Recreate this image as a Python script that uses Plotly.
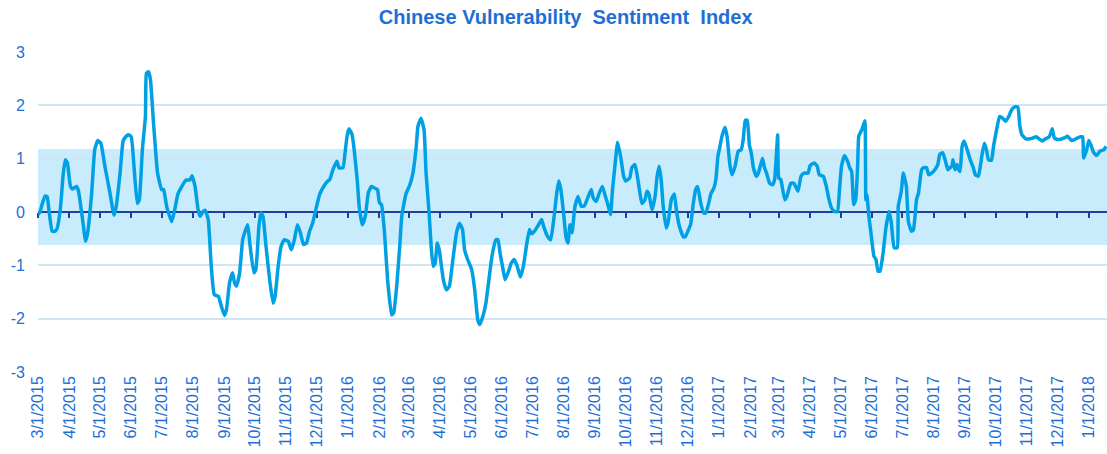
import plotly.graph_objects as go

# ---- data ----
dates = [
    "2015-03-01","2015-03-03","2015-03-05","2015-03-08","2015-03-10","2015-03-12","2015-03-15","2015-03-18","2015-03-20","2015-03-23",
    "2015-03-26","2015-03-28","2015-03-30","2015-04-02","2015-04-04","2015-04-08","2015-04-10","2015-04-14","2015-04-17","2015-04-19",
    "2015-04-23","2015-04-26","2015-04-29","2015-05-02","2015-05-06","2015-05-11","2015-05-15","2015-05-17","2015-05-21","2015-05-24",
    "2015-05-27","2015-05-29","2015-06-01","2015-06-04","2015-06-07","2015-06-09","2015-06-12","2015-06-15","2015-06-16","2015-06-18",
    "2015-06-20","2015-06-23","2015-06-27","2015-07-01","2015-07-03","2015-07-06","2015-07-11","2015-07-14","2015-07-17","2015-07-21",
    "2015-07-25","2015-07-29","2015-07-31","2015-08-03","2015-08-06","2015-08-08","2015-08-11","2015-08-13","2015-08-16","2015-08-19",
    "2015-08-22","2015-08-26","2015-08-29","2015-09-01","2015-09-03","2015-09-06","2015-09-09","2015-09-11","2015-09-13","2015-09-16",
    "2015-09-19","2015-09-22","2015-09-24","2015-09-26","2015-09-30","2015-10-02","2015-10-05","2015-10-07","2015-10-09","2015-10-12",
    "2015-10-16","2015-10-19","2015-10-21","2015-10-24","2015-10-27","2015-10-30","2015-11-03","2015-11-06","2015-11-09","2015-11-12",
    "2015-11-15","2015-11-18","2015-11-21","2015-11-24","2015-11-27","2015-12-01","2015-12-04","2015-12-09","2015-12-12","2015-12-14",
    "2015-12-17","2015-12-21","2015-12-23","2015-12-27","2015-12-29","2015-12-31","2016-01-02","2016-01-05","2016-01-07","2016-01-10",
    "2016-01-12","2016-01-15","2016-01-18","2016-01-21","2016-01-24","2016-01-27","2016-01-30","2016-02-01","2016-02-03","2016-02-06",
    "2016-02-09","2016-02-13","2016-02-15","2016-02-18","2016-02-21","2016-02-23","2016-02-27","2016-03-02","2016-03-05","2016-03-08",
    "2016-03-10","2016-03-13","2016-03-16","2016-03-18","2016-03-21","2016-03-23","2016-03-25","2016-03-27","2016-03-29","2016-03-31",
    "2016-04-04","2016-04-07","2016-04-10","2016-04-13","2016-04-17","2016-04-20","2016-04-23","2016-04-25","2016-04-28","2016-05-02",
    "2016-05-05","2016-05-08","2016-05-10","2016-05-13","2016-05-16","2016-05-19","2016-05-22","2016-05-26","2016-05-28","2016-05-30",
    "2016-06-02","2016-06-04","2016-06-08","2016-06-10","2016-06-13","2016-06-16","2016-06-19","2016-06-22","2016-06-25","2016-06-28",
    "2016-06-30","2016-07-03","2016-07-06","2016-07-10","2016-07-12","2016-07-16","2016-07-19","2016-07-22","2016-07-25","2016-07-27",
    "2016-07-29","2016-08-01","2016-08-03","2016-08-05","2016-08-07","2016-08-09","2016-08-12","2016-08-15","2016-08-18","2016-08-21",
    "2016-08-25","2016-08-28","2016-08-30","2016-09-02","2016-09-05","2016-09-08","2016-09-11","2016-09-13","2016-09-16","2016-09-18",
    "2016-09-21","2016-09-23","2016-09-26","2016-09-29","2016-10-01","2016-10-05","2016-10-07","2016-10-10","2016-10-12","2016-10-15",
    "2016-10-17","2016-10-20","2016-10-22","2016-10-24","2016-10-27","2016-10-30","2016-11-01","2016-11-03","2016-11-05","2016-11-07",
    "2016-11-10","2016-11-12","2016-11-15","2016-11-18","2016-11-20","2016-11-23","2016-11-27","2016-11-29","2016-12-02","2016-12-04",
    "2016-12-07","2016-12-09","2016-12-11","2016-12-14","2016-12-17","2016-12-19","2016-12-22","2016-12-24","2016-12-27","2016-12-29",
    "2016-12-31","2017-01-02","2017-01-04","2017-01-07","2017-01-09","2017-01-12","2017-01-14","2017-01-17","2017-01-20","2017-01-23",
    "2017-01-25","2017-01-27","2017-01-29","2017-01-31","2017-02-02","2017-02-04","2017-02-07","2017-02-09","2017-02-13","2017-02-15",
    "2017-02-17","2017-02-20","2017-02-23","2017-02-25","2017-02-28","2017-03-01","2017-03-03","2017-03-07","2017-03-09","2017-03-13",
    "2017-03-16","2017-03-20","2017-03-23","2017-03-26","2017-03-30","2017-04-01","2017-04-05","2017-04-08","2017-04-10","2017-04-14",
    "2017-04-17","2017-04-19","2017-04-22","2017-04-25","2017-04-28","2017-04-30","2017-05-02","2017-05-05","2017-05-08","2017-05-10",
    "2017-05-12","2017-05-14","2017-05-16","2017-05-18","2017-05-19","2017-05-22","2017-05-25","2017-05-26","2017-05-27","2017-05-29",
    "2017-05-31","2017-06-03","2017-06-05","2017-06-07","2017-06-09","2017-06-12","2017-06-15","2017-06-18","2017-06-20","2017-06-23",
    "2017-06-26","2017-06-27","2017-06-30","2017-07-02","2017-07-05","2017-07-07","2017-07-10","2017-07-12","2017-07-15","2017-07-17",
    "2017-07-20","2017-07-22","2017-07-25","2017-07-27","2017-07-30","2017-08-02","2017-08-05","2017-08-07","2017-08-10","2017-08-13",
    "2017-08-15","2017-08-17","2017-08-19","2017-08-20","2017-08-22","2017-08-24","2017-08-26","2017-08-27","2017-08-29","2017-08-31",
    "2017-09-03","2017-09-06","2017-09-09","2017-09-11","2017-09-14","2017-09-16","2017-09-18","2017-09-20","2017-09-22","2017-09-24",
    "2017-09-27","2017-09-29","2017-10-02","2017-10-05","2017-10-08","2017-10-11","2017-10-14","2017-10-17","2017-10-20","2017-10-23",
    "2017-10-25","2017-10-27","2017-10-31","2017-11-03","2017-11-06","2017-11-10","2017-11-13","2017-11-16","2017-11-19","2017-11-23",
    "2017-11-25","2017-11-26","2017-11-28","2017-12-01","2017-12-05","2017-12-08","2017-12-11","2017-12-15","2017-12-18","2017-12-21",
    "2017-12-24","2017-12-26","2017-12-27","2017-12-30","2018-01-01","2018-01-03","2018-01-06","2018-01-09","2018-01-12","2018-01-16",
    "2018-01-18",
]

index_values = [
    -0.05, 0.00, 0.14, 0.30, 0.29, 0.00, -0.36, -0.36, -0.30, 0.05,
    0.73, 0.98, 0.92, 0.48, 0.43, 0.48, 0.39, -0.14, -0.55, -0.39,
    0.36, 1.17, 1.34, 1.29, 0.86, 0.36, -0.06, 0.08, 0.73, 1.33,
    1.42, 1.45, 1.41, 0.79, 0.16, 0.23, 1.17, 1.79, 2.60, 2.63,
    2.48, 1.67, 0.73, 0.42, 0.42, 0.10, -0.18, 0.05, 0.33, 0.48,
    0.60, 0.60, 0.68, 0.48, 0.04, -0.08, 0.01, 0.03, -0.14, -1.02,
    -1.55, -1.58, -1.77, -1.94, -1.83, -1.33, -1.14, -1.33, -1.39, -1.14,
    -0.52, -0.33, -0.24, -0.58, -1.14, -1.08, -0.27, -0.02, -0.08, -0.64,
    -1.33, -1.71, -1.58, -1.02, -0.64, -0.52, -0.55, -0.71, -0.52, -0.24,
    -0.39, -0.61, -0.58, -0.36, -0.21, 0.11, 0.33, 0.51, 0.58, 0.61,
    0.79, 0.95, 0.83, 0.83, 1.10, 1.42, 1.56, 1.45, 1.17, 0.61,
    0.10, -0.24, -0.08, 0.36, 0.48, 0.45, 0.42, 0.17, 0.14, -0.39,
    -1.27, -1.93, -1.89, -1.39, -0.64, -0.08, 0.33, 0.51, 0.73, 1.17,
    1.61, 1.76, 1.54, 0.73, -0.02, -0.64, -1.02, -0.96, -0.58, -0.71,
    -1.27, -1.46, -1.39, -0.96, -0.39, -0.21, -0.33, -0.71, -0.89, -1.08,
    -1.46, -2.02, -2.11, -1.96, -1.71, -1.27, -0.83, -0.52, -0.52, -0.77,
    -1.08, -1.27, -1.08, -0.96, -0.89, -1.02, -1.22, -1.02, -0.64, -0.33,
    -0.41, -0.36, -0.27, -0.14, -0.27, -0.46, -0.52, -0.14, 0.36, 0.58,
    0.42, -0.08, -0.46, -0.58, -0.24, -0.39, 0.11, 0.29, 0.11, 0.11,
    0.29, 0.42, 0.26, 0.20, 0.36, 0.48, 0.29, 0.17, -0.05, 0.42,
    0.98, 1.31, 1.04, 0.67, 0.58, 0.64, 0.83, 0.89, 0.73, 0.36,
    0.16, 0.23, 0.39, 0.33, 0.04, 0.29, 0.67, 0.86, 0.61, 0.11,
    -0.30, -0.18, 0.23, 0.34, 0.04, -0.27, -0.47, -0.46, -0.33, -0.24,
    0.20, 0.42, 0.48, 0.17, -0.02, -0.02, 0.17, 0.34, 0.45, 0.61,
    1.04, 1.23, 1.42, 1.59, 1.42, 0.86, 0.70, 0.86, 1.14, 1.17,
    1.36, 1.72, 1.72, 1.26, 1.10, 0.83, 0.67, 0.73, 1.01, 0.83,
    0.73, 0.54, 0.51, 0.61, 1.45, 0.64, 0.61, 0.23, 0.29, 0.54,
    0.54, 0.39, 0.67, 0.73, 0.73, 0.87, 0.92, 0.86, 0.70, 0.67,
    0.48, 0.29, 0.08, 0.01, 0.01, 0.42, 0.86, 1.06, 0.95, 0.83,
    0.76, 0.14, 0.23, 0.92, 1.42, 1.54, 1.71, 0.23, 0.33, -0.08,
    -0.39, -0.83, -0.89, -1.11, -1.11, -0.77, -0.27, 0.01, -0.18, -0.67,
    -0.67, 0.11, 0.39, 0.73, 0.48, -0.18, -0.36, -0.33, 0.23, 0.36,
    0.79, 0.83, 0.83, 0.70, 0.73, 0.79, 0.89, 1.08, 1.11, 0.92,
    0.79, 0.83, 0.86, 0.98, 0.79, 0.89, 0.78, 0.76, 1.23, 1.33,
    1.17, 0.98, 0.83, 0.70, 0.67, 0.86, 1.11, 1.29, 1.17, 0.98,
    0.97, 1.23, 1.54, 1.79, 1.76, 1.70, 1.79, 1.92, 1.97, 1.97,
    1.61, 1.45, 1.37, 1.37, 1.38, 1.41, 1.37, 1.33, 1.37, 1.41,
    1.51, 1.56, 1.39, 1.36, 1.37, 1.39, 1.42, 1.34, 1.36, 1.39,
    1.41, 1.41, 1.01, 1.17, 1.34, 1.26, 1.11, 1.06, 1.14, 1.17,
    1.23,
]

band_low = -0.62
band_high = 1.18
x_start = "2015-03-01"
x_end = "2018-01-19"
y_ticks = [-3, -2, -1, 0, 1, 2, 3]
y_tick_labels = ["-3", "-2", "-1", "0", "1", "2", "3"]
title_text = "Chinese Vulnerability\u00a0 Sentiment\u00a0 Index"

# ---- styling ----
LINE_COLOR = "#00A0E4"
BAND_COLOR = "#C8ECFC"
GRID_COLOR = "#CFE7F4"
ZERO_COLOR = "#1F3E9E"
TEXT_COLOR = "#1E6FD5"
FONT = "Liberation Sans, Arial, sans-serif"

fig = go.Figure()
fig.add_trace(go.Scatter(
    x=dates, y=index_values, mode="lines",
    line=dict(color=LINE_COLOR, width=3.5, shape="spline", smoothing=0.4),
    showlegend=False, hoverinfo="x+y",
))
# invisible companion trace so that the zero-line axis (x2) is drawn
fig.add_trace(go.Scatter(
    x=dates, y=index_values, mode="lines", xaxis="x2",
    line=dict(color="rgba(0,0,0,0)", width=0),
    showlegend=False, hoverinfo="skip",
))

fig.add_shape(type="rect", xref="paper", yref="y", x0=0, x1=1,
              y0=band_low, y1=band_high, fillcolor=BAND_COLOR,
              line=dict(width=0), layer="between")

fig.update_layout(
    width=1107, height=454,
    margin=dict(l=38, r=0, t=52, b=82, autoexpand=False),
    paper_bgcolor="white", plot_bgcolor="white",
    font=dict(family=FONT, color=TEXT_COLOR, size=16),
    title=dict(text="<b>" + title_text + "</b>", x=0.511, xanchor="center",
               y=0.962, yanchor="middle", font=dict(size=20, color=TEXT_COLOR, family=FONT)),
    xaxis=dict(
        type="date", range=[x_start, x_end],
        tick0=x_start, dtick="M1", tickformat="%-m/%-d/%Y",
        tickangle=-90, showgrid=False, zeroline=False, showline=False,
        ticks="", ticklen=0, tickfont=dict(size=16, color=TEXT_COLOR),
        automargin=False,
    ),
    xaxis2=dict(
        type="date", overlaying="x", matches="x", anchor="free", position=0.5,
        side="bottom", tick0=x_start, dtick="M1",
        showline=True, linecolor=ZERO_COLOR, linewidth=2,
        ticks="outside", ticklen=5, tickwidth=2, tickcolor=ZERO_COLOR,
        showticklabels=False, showgrid=False, zeroline=False,
        layer="below traces",
    ),
    yaxis=dict(
        range=[-3, 3], tickvals=y_ticks, ticktext=y_tick_labels,
        showgrid=True, gridcolor=GRID_COLOR,
        gridwidth=2, zeroline=False, showline=False, ticks="",
        tickfont=dict(size=16, color=TEXT_COLOR), ticklabelstandoff=12,
        automargin=False,
    ),
)

fig.write_html("out.html", config={"displayModeBar": False},
               post_script="document.body.style.margin='0';")
